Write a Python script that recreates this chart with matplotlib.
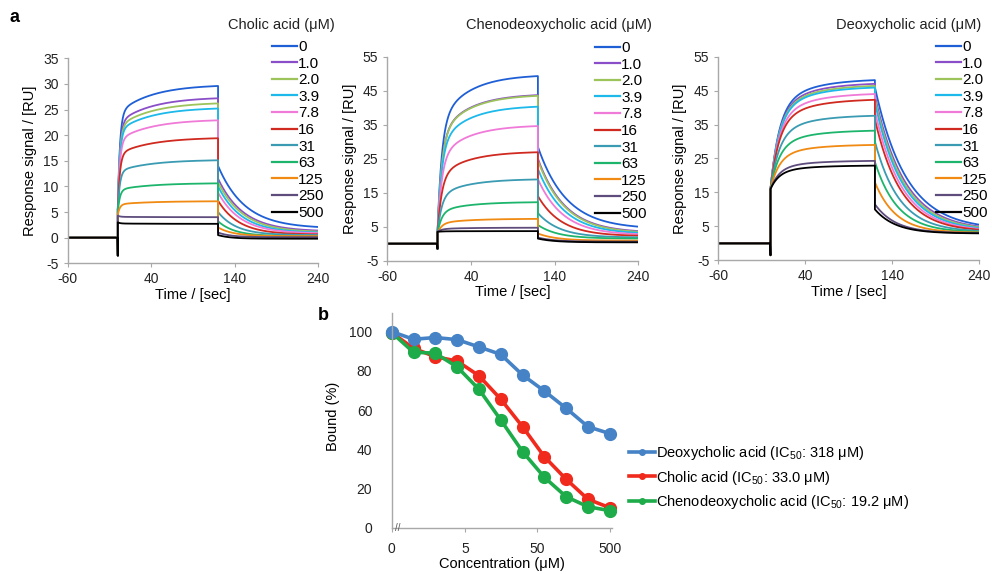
import numpy as np
import matplotlib
matplotlib.use("Agg")
import matplotlib.pyplot as plt
from matplotlib.lines import Line2D

plt.rcParams['font.family'] = ['Liberation Sans', 'DejaVu Sans']
plt.rcParams['mathtext.fontset'] = 'custom'
plt.rcParams['mathtext.rm'] = 'Liberation Sans'
plt.rcParams['mathtext.it'] = 'Liberation Sans:italic'
plt.rcParams['axes.unicode_minus'] = False

# ---------------- data ----------------
conc_labels = ["0", "1.0", "2.0", "3.9", "7.8", "16", "31", "63", "125", "250", "500"]
trace_colors = ["#1f5fd6", "#8a4fc8", "#9cc45a", "#1cb9ea", "#f07ad8", "#d02a20",
                "#3a9bb2", "#1db56c", "#f08a12", "#5e4c7c", "#000000"]

# Panel a: read values (RU) for each concentration
# S = level right after injection start, P = level at end of injection (120 s),
# D = level right after injection end, F = level approached at 240 s
cholic_S = [5.5, 5.5, 5.5, 5.5, 5.5, 5.5, 5.5, 5.0, 4.5, 4.3, 3.0]
cholic_P = [29.6, 27.2, 26.2, 25.2, 22.9, 19.4, 15.1, 10.6, 7.1, 4.0, 2.7]
cholic_D = [14.0, 11.5, 10.8, 10.0, 8.8, 7.2, 5.0, 3.2, 2.0, 1.0, 0.5]
cholic_F = [1.8, 1.2, 1.0, 0.9, 0.8, 0.6, 0.5, 0.3, 0.3, 0.1, -0.2]
cholic_taud = [32, 30, 30, 28, 27, 25, 22, 20, 18, 15, 15]

cdca_S = [3.0, 3.0, 3.0, 3.0, 3.0, 3.0, 3.0, 3.0, 3.0, 3.5, 3.5]
cdca_P = [49.3, 43.7, 43.5, 40.3, 34.6, 26.9, 18.9, 12.2, 7.3, 4.7, 3.7]
cdca_D = [28.5, 25.0, 24.5, 22.0, 19.0, 14.0, 9.0, 5.5, 3.0, 1.8, 1.5]
cdca_F = [4.3, 3.2, 3.0, 2.8, 2.5, 2.2, 1.8, 1.5, 0.9, 0.6, 0.4]
cdca_taud = [34, 32, 32, 31, 30, 28, 26, 24, 22, 20, 20]

dca_S = [16.0] * 11
dca_P = [48.1, 47.0, 46.4, 45.9, 44.0, 42.3, 37.6, 33.2, 29.0, 24.3, 22.9]
dca_D = [46.0, 43.5, 42.5, 41.5, 39.0, 36.5, 30.0, 24.0, 18.0, 11.5, 10.0]
dca_F = [4.0, 3.8, 3.7, 3.6, 3.5, 3.4, 3.3, 3.2, 3.1, 3.0, 2.9]
dca_taud = [36, 34, 33, 32, 31, 30, 28, 26, 24, 24, 24]

# Panel b
conc_b = [0, 0.977, 1.95, 3.91, 7.81, 15.6, 31.25, 62.5, 125, 250, 500]
bound_dca = [100, 96.1, 97.0, 95.9, 92.2, 88.4, 77.9, 69.7, 60.9, 51.5, 48.0]
bound_ca = [99.5, 91.5, 87.2, 85.0, 77.5, 65.6, 51.5, 36.2, 24.7, 14.5, 10.2]
bound_cdca = [99.5, 89.5, 89.0, 82.0, 70.6, 55.0, 38.8, 25.7, 15.8, 10.7, 8.7]
b_ticks = [0, 5, 50, 500]
b_tick_labels = ["0", "5", "50", "500"]

# ---------------- figure ----------------
W, H = 992, 574
fig = plt.figure(figsize=(W / 100, H / 100), dpi=100)

def px_axes(left, top, right, bottom):
    return fig.add_axes([left / W, 1 - bottom / H, (right - left) / W, (bottom - top) / H])

GRAY = "#a8a8a8"
FS = 10

def style_axes(ax):
    for s in ["top", "right"]:
        ax.spines[s].set_visible(False)
    for s in ["left", "bottom"]:
        ax.spines[s].set_color(GRAY)
        ax.spines[s].set_linewidth(1.0)
    ax.tick_params(colors=GRAY, labelcolor="#222222", labelsize=FS, length=3, width=0.8)

def sensorgram(S, P, D, F, taud, tau1, w, tau2, dip):
    t_base = np.arange(-60, 0, 0.5)
    t_as = np.arange(0, 120.001, 0.25)
    t_dis = np.arange(120, 240.001, 0.5)
    r_base = np.zeros_like(t_base)
    h = w * (1 - np.exp(-t_as / tau1)) + (1 - w) * (1 - np.exp(-t_as / tau2)) / (1 - np.exp(-120 / tau2))
    r_as = S + (P - S) * h
    r_dis = F + (D - F) * np.exp(-(t_dis - 120) / taud)
    t = np.concatenate([t_base, [0.0], t_as, t_dis])
    r = np.concatenate([r_base, [dip], r_as, r_dis])
    return t, r

panels = [
    dict(box=(67.7, 58.3, 318.3, 263.3), ylim=(-5, 35), yt=np.arange(-5, 36, 5),
         S=cholic_S, P=cholic_P, D=cholic_D, F=cholic_F, taud=cholic_taud,
         shape=(2.5, 0.78, 40), dip=-3.5, title="Cholic acid (μM)", title_x=335,
         leg=(272, 40), ylab_x=37),
    dict(box=(387.3, 56.7, 638.3, 260.7), ylim=(-5, 55), yt=np.arange(-5, 56, 10),
         S=cdca_S, P=cdca_P, D=cdca_D, F=cdca_F, taud=cdca_taud,
         shape=(5, 0.7, 35), dip=-1.5, title="Chenodeoxycholic acid (μM)", title_x=652,
         leg=(595, 41), ylab_x=357),
    dict(box=(718.3, 56.7, 979.3, 260.3), ylim=(-5, 55), yt=np.arange(-5, 56, 10),
         S=dca_S, P=dca_P, D=dca_D, F=dca_F, taud=dca_taud,
         shape=(10, 0.75, 40), dip=-3.5, title="Deoxycholic acid (μM)", title_x=981,
         leg=(936, 40), ylab_x=687),
]

for p in panels:
    ax = px_axes(*p["box"])
    style_axes(ax)
    for i, lab in enumerate(conc_labels):
        t, r = sensorgram(p["S"][i], p["P"][i], p["D"][i], p["F"][i], p["taud"][i],
                          *p["shape"], p["dip"])
        ax.plot(t, r, color=trace_colors[i], lw=1.3, label=lab)
    ax.set_xlim(-60, 240)
    ax.set_ylim(*p["ylim"])
    ax.set_xticks([-60, 40, 140, 240])
    ax.set_yticks(p["yt"])
    ax.set_xlabel("Time / [sec]", fontsize=FS + 0.5, labelpad=1)
    ax.set_ylabel("Response signal / [RU]", fontsize=FS + 0.5)
    ax.yaxis.set_label_coords((p["ylab_x"] - p["box"][0]) / (p["box"][2] - p["box"][0]), 0.5)
    fig.legend(handles=[Line2D([], [], color=c, lw=1.6) for c in trace_colors],
               labels=conc_labels, loc="upper left",
               bbox_to_anchor=(p["leg"][0] / W, 1 - p["leg"][1] / H),
               frameon=False, fontsize=FS + 1, handlelength=1.65, handletextpad=0.05,
               labelspacing=0.17, borderpad=0, borderaxespad=0)
    fig.text(p["title_x"] / W, 1 - 25 / H, p["title"], ha="right", va="center",
             fontsize=FS + 0.5, color="#222222")

fig.text(14 / W, 1 - 18 / H, "a", fontsize=13, fontweight="bold", va="center", ha="center")
fig.text(323 / W, 1 - 315 / H, "b", fontsize=13, fontweight="bold", va="center", ha="center")

# ---------------- panel b ----------------
def to_pos(c):
    c = np.asarray(c, dtype=float)
    out = np.zeros_like(c)
    m = c > 0
    out[m] = 1 + np.log2(c[m] / 0.977)
    return out

axb = px_axes(391.7, 313, 612, 527.7)
style_axes(axb)
xb = to_pos(conc_b)
b_series = [
    ("Cholic acid (IC$_{50}$: 33.0 μM)", bound_ca, "#f02a1c"),
    ("Chenodeoxycholic acid (IC$_{50}$: 19.2 μM)", bound_cdca, "#1eab4a"),
    ("Deoxycholic acid (IC$_{50}$: 318 μM)", bound_dca, "#4583c6"),
]
for lab, vals, col in b_series:
    axb.plot(xb, vals, color=col, lw=2.6, marker="o", ms=8.5, mec=col, mfc=col,
             clip_on=False, solid_capstyle="round")
axb.set_xlim(0, 10.1)
axb.set_ylim(0, 109.5)
axb.set_yticks([0, 20, 40, 60, 80, 100])
axb.set_xticks(to_pos(b_ticks))
axb.set_xticklabels(b_tick_labels)
axb.tick_params(axis="y", length=0, pad=14)
axb.tick_params(axis="x", pad=7)
axb.set_xlabel("Concentration (μM)", fontsize=FS + 0.5, labelpad=1)
axb.set_ylabel("Bound (%)", fontsize=FS + 0.5)
axb.yaxis.set_label_coords((340 - 391.7) / (612 - 391.7), 0.52)
axb.text(0.3, 0, "//", fontsize=7, color="#555555", ha="center", va="center",
         transform=axb.transData, clip_on=False)

leg_order = [2, 0, 1]
fig.legend(handles=[Line2D([], [], color=b_series[k][2], lw=2.6, marker="o", ms=4)
                    for k in leg_order],
           labels=[b_series[k][0] for k in leg_order], loc="upper left",
           bbox_to_anchor=(629 / W, 1 - 444 / H), frameon=False, fontsize=FS + 0.5,
           handlelength=1.75, handletextpad=0.1, labelspacing=0.45,
           borderpad=0, borderaxespad=0)

fig.savefig("out.png", dpi=100)
